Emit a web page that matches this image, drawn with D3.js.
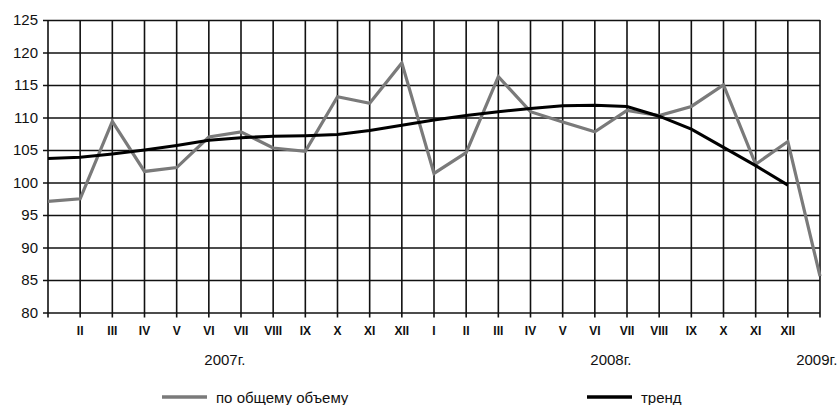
<!DOCTYPE html>
<html>
<head>
<meta charset="utf-8">
<script src="https://cdn.jsdelivr.net/npm/d3@7"></script>
<style>
  body { margin: 0; background: #fff; }
  svg text { font-family: "Liberation Sans", Arial, sans-serif; fill: #111; }
</style>
</head>
<body>
<div id="chart"></div>
<script>

// months, Jan 2007 .. Jan 2009
var months = ['', 'II', 'III', 'IV', 'V', 'VI', 'VII', 'VIII', 'IX', 'X', 'XI', 'XII',
              'I', 'II', 'III', 'IV', 'V', 'VI', 'VII', 'VIII', 'IX', 'X', 'XI', 'XII', ''];

var total = [97.1, 97.5, 109.4, 101.7, 102.3, 107.0, 107.8, 105.3, 104.8, 113.2, 112.2, 118.4,
             101.4, 104.6, 116.3, 110.9, 109.3, 107.8, 111.1, 110.3, 111.7, 115.0, 102.8, 106.3, 85.6];

var trend = [103.7, 103.9, 104.4, 105.0, 105.7, 106.5, 106.9, 107.1, 107.2, 107.4, 108.0, 108.8,
             109.6, 110.3, 110.9, 111.4, 111.8, 111.9, 111.7, 110.2, 108.2, 105.4, 102.6, 99.6];

var years = ['2007г.', '2008г.', '2009г.'];
var year_pos = [5.5, 17.5, 23.9];

var y_ticks = [80, 85, 90, 95, 100, 105, 110, 115, 120, 125];

var legend_names = ['по общему объему', 'тренд'];

var W = 840, H = 405;
var margin = { top: 20, left: 48, right: 20, bottom: 92 };

var svg = d3.select('#chart').append('svg')
    .attr('width', W)
    .attr('height', H);

var sx = d3.scaleLinear()
    .domain([0, months.length - 1])
    .range([margin.left, W - margin.right]);
var sy = d3.scaleLinear()
    .domain([80, 125])
    .range([H - margin.bottom - 0.5 + 0, margin.top]);

// horizontal grid + y labels
var ay = d3.axisLeft(sy)
    .tickValues(y_ticks)
    .tickSize(-(sx.range()[1] - sx.range()[0]))
    .tickPadding(10);
var gy = svg.append('g')
    .attr('transform', 'translate(' + margin.left + ',0)')
    .call(ay);
gy.select('.domain').remove();
gy.selectAll('.tick line')
    .attr('x1', -5)
    .attr('stroke', '#111')
    .attr('stroke-width', 1.6);
gy.selectAll('.tick text')
    .attr('font-size', 15)
    .attr('fill', '#111');

// vertical grid
var idx = d3.range(months.length);
svg.append('g').selectAll('line')
    .data(idx).enter()
    .append('line')
    .attr('x1', function(d) { return sx(d); })
    .attr('x2', function(d) { return sx(d); })
    .attr('y1', sy(125))
    .attr('y2', sy(80) + 5)
    .attr('stroke', '#111')
    .attr('stroke-width', 1.6);

// month labels
svg.append('g').selectAll('text')
    .data(months).enter()
    .append('text')
    .attr('x', function(d, i) { return sx(i); })
    .attr('y', sy(80) + 22)
    .attr('text-anchor', 'middle')
    .attr('font-size', 12)
    .attr('font-weight', 'bold')
    .text(function(d) { return d; });

// year labels
svg.append('g').selectAll('text')
    .data(years).enter()
    .append('text')
    .attr('x', function(d, i) { return sx(year_pos[i]); })
    .attr('y', sy(80) + 52)
    .attr('text-anchor', 'middle')
    .attr('font-size', 15)
    .text(function(d) { return d; });

var line = d3.line()
    .x(function(d, i) { return sx(i); })
    .y(function(d) { return sy(d); });

svg.append('path')
    .datum(total)
    .attr('d', line)
    .attr('fill', 'none')
    .attr('stroke', '#7a7a7a')
    .attr('stroke-width', 3.2)
    .attr('stroke-linejoin', 'miter');

svg.append('path')
    .datum(trend)
    .attr('d', line)
    .attr('fill', 'none')
    .attr('stroke', '#000')
    .attr('stroke-width', 3);

// legend
var legend = [
    { x: 162, color: '#7a7a7a' },
    { x: 587, color: '#000' }
];
legend.forEach(function(l, i) {
    var g = svg.append('g').attr('class', 'legend');
    g.append('line')
        .attr('x1', l.x)
        .attr('x2', l.x + 45)
        .attr('y1', 397)
        .attr('y2', 397)
        .attr('stroke', l.color)
        .attr('stroke-width', 3.5);
    g.append('text')
        .attr('x', l.x + 54)
        .attr('y', 403)
        .attr('font-size', 15)
        .text(legend_names[i]);
});

</script>
</body>
</html>
